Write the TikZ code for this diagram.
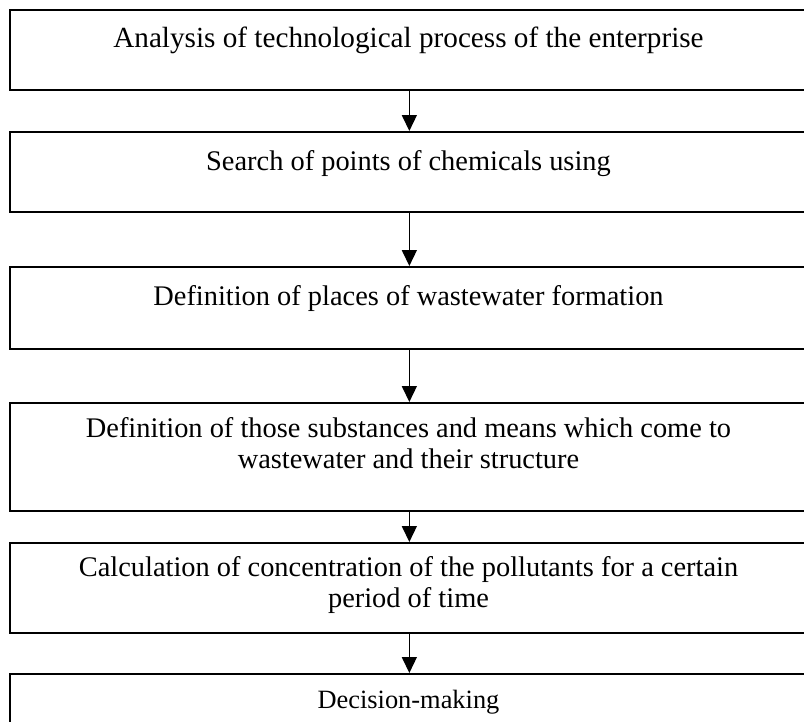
\documentclass[tikz,border=0pt]{standalone}
\usepackage{fontspec}
\setmainfont{Liberation Serif}
\usetikzlibrary{arrows.meta}
\begin{document}
\begin{tikzpicture}[x=1pt,y=-1pt,
  stepbox/.style={draw=black,line width=1.7pt,minimum width=799pt,inner sep=0pt,anchor=north west},
  steptext/.style={anchor=base,inner sep=0pt,align=center,font=\fontsize{28.4}{31.5}\selectfont},
  flow/.style={line width=1.5pt,-{Triangle[length=16pt,width=15pt]}}]
\useasboundingbox (0,0) rectangle (804,721);
\clip (0,0) rectangle (804,721);
\fill[white] (0,0) rectangle (804,721);
\node[stepbox,minimum height=80pt] (b1) at (9,9) {};
\node[stepbox,minimum height=80pt] (b2) at (9,131) {};
\node[stepbox,minimum height=82pt] (b3) at (9,266) {};
\node[stepbox,minimum height=108pt] (b4) at (9,402) {};
\node[stepbox,minimum height=90pt] (b5) at (9,542) {};
\node[stepbox,minimum height=90pt] (b6) at (9,673) {};
\node[steptext,font=\fontsize{29.2}{32}\selectfont] (t1) at (408.5,47) {Analysis of technological process of the enterprise};
\node[steptext] (t2) at (408.5,170) {Search of points of chemicals using};
\node[steptext] (t3) at (408.5,305) {Definition of places of wastewater formation};
\node[steptext,anchor=north] (t4) at (408.5,417) {Definition of those substances and means which come to\\wastewater and their structure};
\node[steptext,anchor=north] (t5) at (408.5,556) {Calculation of concentration of the pollutants for a certain\\period of time};
\node[steptext,font=\fontsize{26.4}{30}\selectfont] (t6) at (408.5,708) {Decision-making};
\draw[flow] (b1.south) -- (b2.north);
\draw[flow] (b2.south) -- (b3.north);
\draw[flow] (b3.south) -- (b4.north);
\draw[flow] (b4.south) -- (b5.north);
\draw[flow] (b5.south) -- (b6.north);
\end{tikzpicture}
\end{document}
